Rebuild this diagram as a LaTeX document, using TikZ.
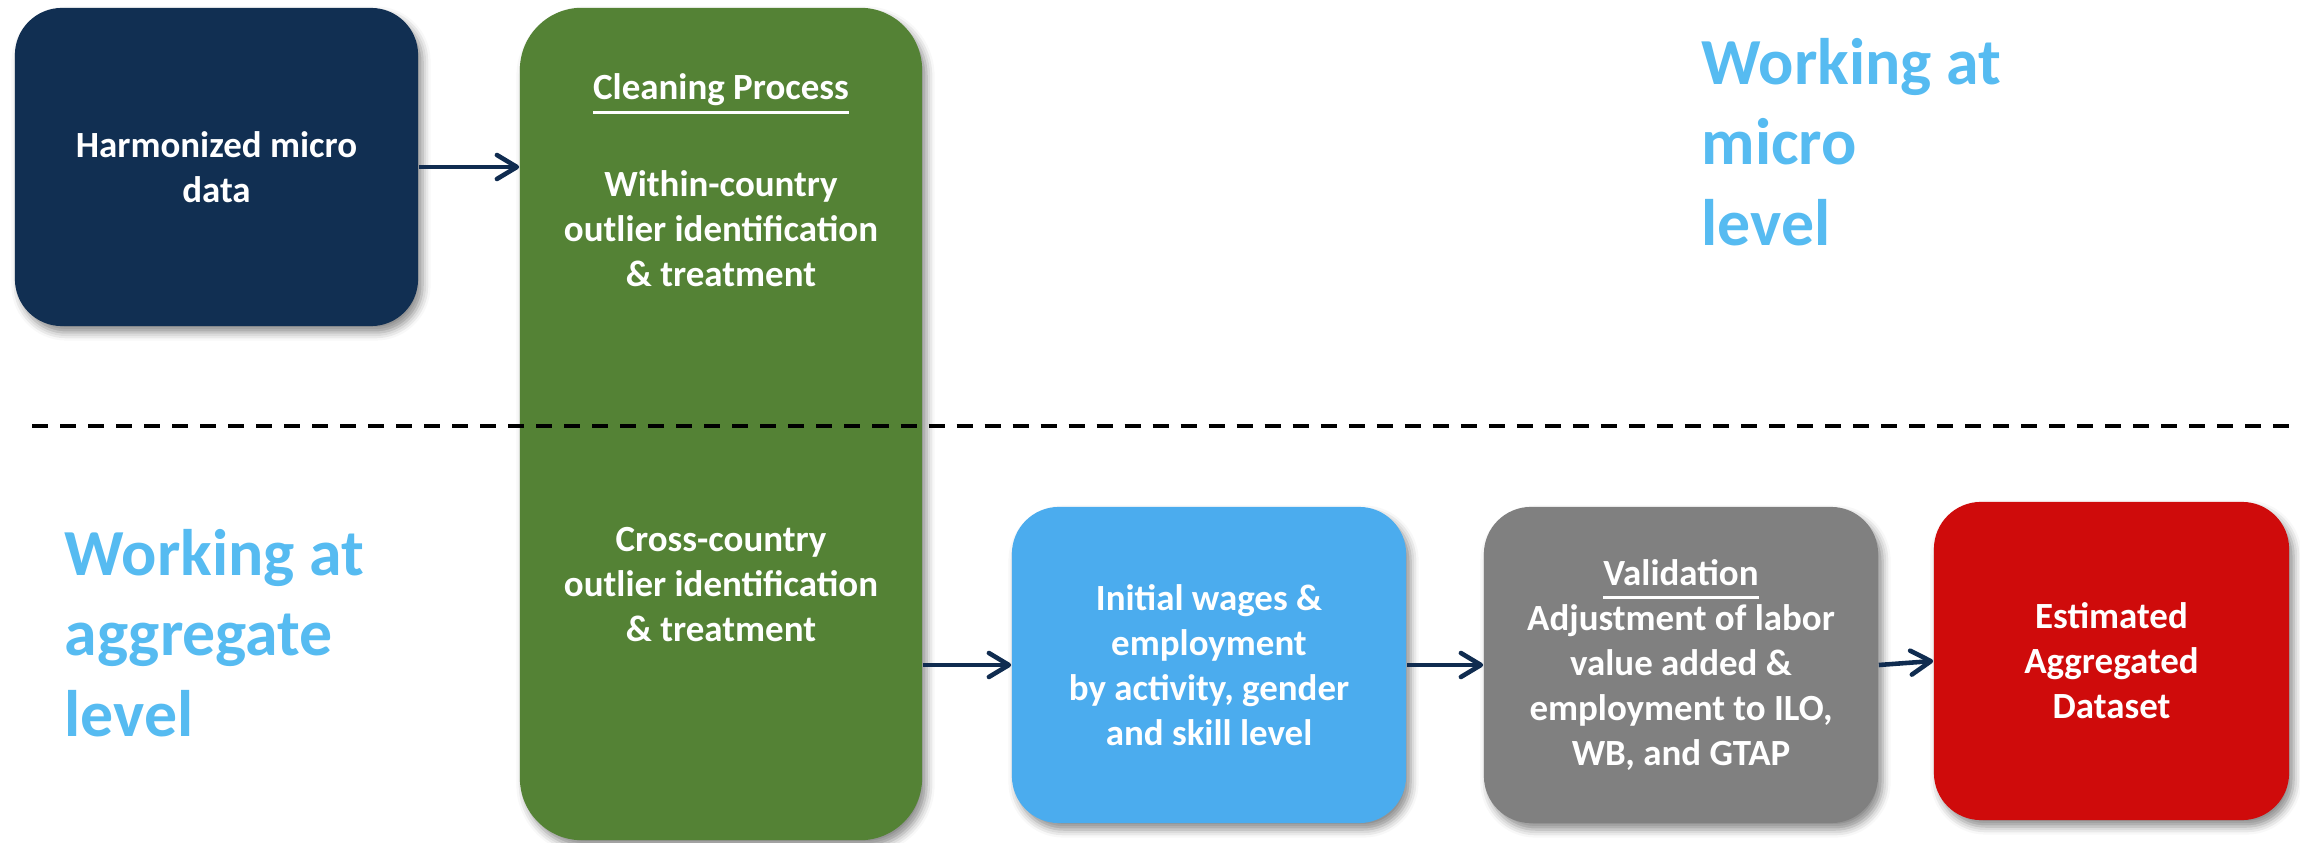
\documentclass[tikz,border=0pt]{standalone}
\usepackage{fontspec}
\setmainfont{Carlito}
\newcommand\uln[1]{\leavevmode\setbox0\hbox{#1}\rlap{\smash{\vrule width\wd0 height -3.1pt depth 3.9pt}}\box0}
\usetikzlibrary{arrows.meta,shadows.blur}
\definecolor{navy}{RGB}{17,47,82}
\definecolor{arrowc}{RGB}{16,44,80}
\definecolor{cgreen}{RGB}{84,130,53}
\definecolor{lblue}{RGB}{75,172,238}
\definecolor{cgray}{RGB}{128,128,128}
\definecolor{cred}{RGB}{207,11,11}
\definecolor{lvlblue}{RGB}{86,187,241}
\tikzset{
  box/.style={rounded corners=4.7mm, inner sep=0pt, align=center, text=white,
    font=\bfseries\fontsize{10.5}{12.8}\selectfont,
    blur shadow={shadow xshift=0.45mm, shadow yshift=-0.65mm, shadow blur radius=0.8mm, shadow opacity=45}},
  boxtxt/.style={align=center, text=white, inner sep=0pt,
    font=\bfseries\fontsize{10.5}{12.8}\selectfont},
  lvl/.style={align=left, text=lvlblue, inner sep=0pt, anchor=west,
    font=\bfseries\fontsize{18.7}{22.8}\selectfont},
  flow/.style={draw=arrowc, line width=1.3pt,
    -{Straight Barb[length=2mm,width=2.4mm,line cap=round,line join=round]}},
  divider/.style={draw=black, line width=1.3pt, dash pattern=on 1.6mm off 1.2mm}
}
\begin{document}
\begin{tikzpicture}[x=0.01cm,y=-0.01cm]
\useasboundingbox (0,0) rectangle (2300,843);
% boxes
\node[box, fill=navy, minimum width=4.03cm, minimum height=3.18cm] (micro) at (216.5,167) {Harmonized micro\\data};
\node[box, fill=cgreen, minimum width=4.02cm, minimum height=8.32cm, rounded corners=6.2mm] (clean) at (721,424) {};
\node[boxtxt, anchor=base] (cleanT) at (721,100) {\uln{Cleaning Process}};
\node[boxtxt] (within) at (721,229) {Within-country\\outlier identification\\\& treatment};
\node[boxtxt] (cross) at (721,585) {Cross-country\\outlier identification\\\& treatment};
\node[box, fill=lblue, minimum width=3.94cm, minimum height=3.16cm] (init) at (1209,665) {Initial wages \&\\employment\\by activity, gender\\and skill level};
\node[box, fill=cgray, minimum width=3.94cm, minimum height=3.16cm] (valid) at (1681,665) {\uln{Validation}\\Adjustment of labor\\value added \&\\employment to ILO,\\WB, and GTAP};
\node[box, fill=cred, minimum width=3.55cm, minimum height=3.18cm] (est) at (2111.5,661) {Estimated\\Aggregated\\Dataset};
% divider
\coordinate (dl) at (32,426);
\coordinate (dr) at (2296,426);
\draw[divider] (dl) -- (dr);
% level labels
\node[lvl] (microlvl) at (1701,142) {Working at\\micro\\level};
\node[lvl] (agglvl) at (64,633) {Working at\\aggregate\\level};
% arrows
\draw[flow] (micro.east) -- (micro.east -| clean.west);
\draw[flow] (init.west -| clean.east) -- (init.west);
\draw[flow] (init.east) -- (valid.west);
\draw[flow] (valid.east) -- (est.west);
\end{tikzpicture}
\end{document}
